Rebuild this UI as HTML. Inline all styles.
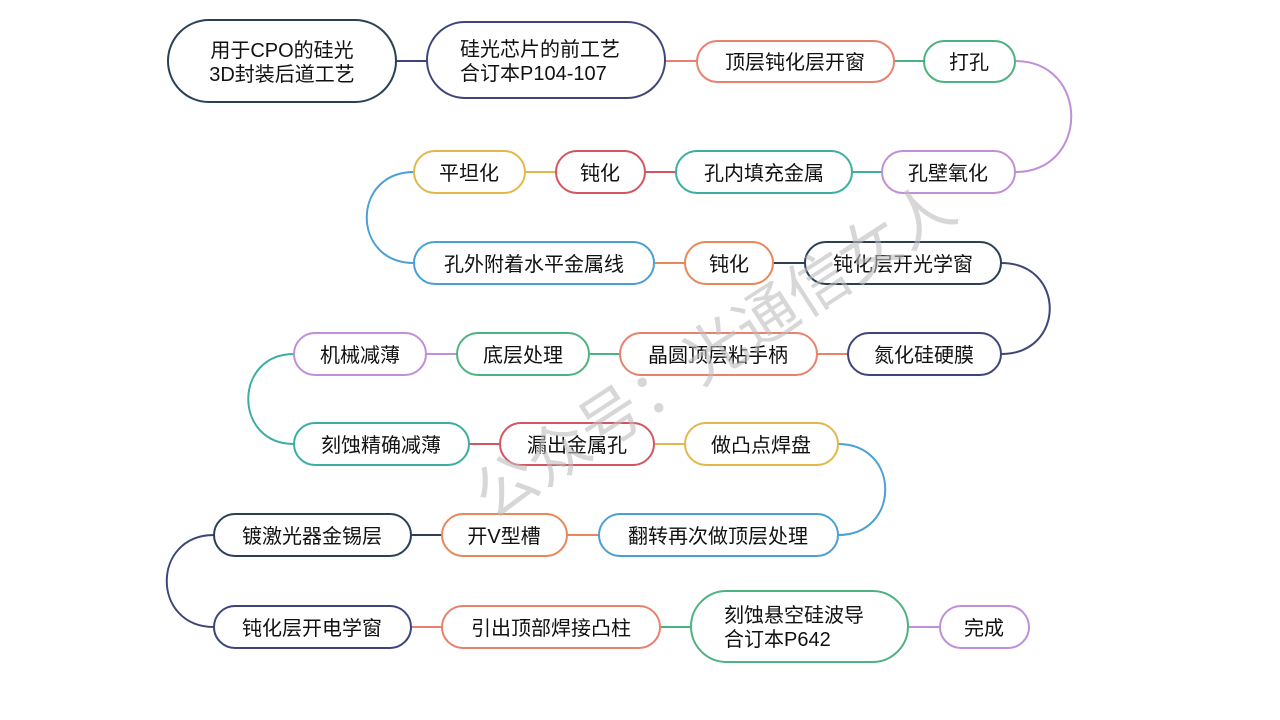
<!DOCTYPE html>
<html><head><meta charset="utf-8"><style>
html,body{margin:0;padding:0;background:#fff;width:1280px;height:720px;overflow:hidden}
svg text{font-family:"Liberation Sans","Noto Sans CJK SC",sans-serif;font-size:20px;fill:#111;text-anchor:middle;dominant-baseline:central}
</style></head><body>
<svg width="1280" height="720" xmlns="http://www.w3.org/2000/svg">
<g fill="none" stroke-width="2">
<line x1="396" y1="61" x2="427" y2="61" stroke="#3d4678"/>
<line x1="665" y1="61" x2="697" y2="61" stroke="#e8826f"/>
<line x1="894" y1="61" x2="924" y2="61" stroke="#4db37e"/>
<path d="M1015 61 C1090 61 1090 172 1015 172" stroke="#c08fd8"/>
<line x1="852" y1="172" x2="882" y2="172" stroke="#3aaea3"/>
<line x1="645" y1="172" x2="676" y2="172" stroke="#d45560"/>
<line x1="525" y1="172" x2="556" y2="172" stroke="#e2b84a"/>
<path d="M414 172 C351 172 351 263 414 263" stroke="#4a9fd4"/>
<line x1="654" y1="263" x2="685" y2="263" stroke="#e8875a"/>
<line x1="773" y1="263" x2="805" y2="263" stroke="#2b3f55"/>
<path d="M1001 263 C1066 263 1066 354 1001 354" stroke="#3d4678"/>
<line x1="817" y1="354" x2="848" y2="354" stroke="#e8826f"/>
<line x1="589" y1="354" x2="620" y2="354" stroke="#4db37e"/>
<line x1="426" y1="354" x2="457" y2="354" stroke="#c08fd8"/>
<path d="M294 354 C233 354 233 444 294 444" stroke="#3aaea3"/>
<line x1="469" y1="444" x2="500" y2="444" stroke="#d45560"/>
<line x1="654" y1="444" x2="685" y2="444" stroke="#e2b84a"/>
<path d="M838 444 C901 444 901 535 838 535" stroke="#4a9fd4"/>
<line x1="567" y1="535" x2="599" y2="535" stroke="#e8875a"/>
<line x1="411" y1="535" x2="442" y2="535" stroke="#2b3f55"/>
<path d="M214 535 C151 535 151 627 214 627" stroke="#3d4678"/>
<line x1="411" y1="627" x2="442" y2="627" stroke="#e8826f"/>
<line x1="660" y1="627" x2="691" y2="627" stroke="#4db37e"/>
<line x1="908" y1="627" x2="940" y2="627" stroke="#c08fd8"/>
</g>
<g fill="#fff" stroke-width="2">
<rect x="168" y="20" width="228" height="82" rx="41" stroke="#2b3f55"/>
<rect x="427" y="22" width="238" height="76" rx="38" stroke="#3d4678"/>
<rect x="697" y="41" width="197" height="41" rx="20.5" stroke="#e8826f"/>
<rect x="924" y="41" width="91" height="41" rx="20.5" stroke="#4db37e"/>
<rect x="882" y="151" width="133" height="42" rx="21" stroke="#c08fd8"/>
<rect x="676" y="151" width="176" height="42" rx="21" stroke="#3aaea3"/>
<rect x="556" y="151" width="89" height="42" rx="21" stroke="#d45560"/>
<rect x="414" y="151" width="111" height="42" rx="21" stroke="#e2b84a"/>
<rect x="414" y="242" width="240" height="42" rx="21" stroke="#4a9fd4"/>
<rect x="685" y="242" width="88" height="42" rx="21" stroke="#e8875a"/>
<rect x="805" y="242" width="196" height="42" rx="21" stroke="#2b3f55"/>
<rect x="848" y="333" width="153" height="42" rx="21" stroke="#3d4678"/>
<rect x="620" y="333" width="197" height="42" rx="21" stroke="#e8826f"/>
<rect x="457" y="333" width="132" height="42" rx="21" stroke="#4db37e"/>
<rect x="294" y="333" width="132" height="42" rx="21" stroke="#c08fd8"/>
<rect x="294" y="423" width="175" height="42" rx="21" stroke="#3aaea3"/>
<rect x="500" y="423" width="154" height="42" rx="21" stroke="#d45560"/>
<rect x="685" y="423" width="153" height="42" rx="21" stroke="#e2b84a"/>
<rect x="599" y="514" width="239" height="42" rx="21" stroke="#4a9fd4"/>
<rect x="442" y="514" width="125" height="42" rx="21" stroke="#e8875a"/>
<rect x="214" y="514" width="197" height="42" rx="21" stroke="#2b3f55"/>
<rect x="214" y="606" width="197" height="42" rx="21" stroke="#3d4678"/>
<rect x="442" y="606" width="218" height="42" rx="21" stroke="#e8826f"/>
<rect x="691" y="591" width="217" height="71" rx="35.5" stroke="#4db37e"/>
<rect x="940" y="606" width="89" height="42" rx="21" stroke="#c08fd8"/>
</g>
<g transform="translate(0,2)">
<text x="282" y="49">用于CPO的硅光</text>
<text x="282" y="73">3D封装后道工艺</text>
<text x="460" y="48" style="text-anchor:start">硅光芯片的前工艺</text>
<text x="460" y="72" style="text-anchor:start">合订本P104-107</text>
<text x="795" y="61">顶层钝化层开窗</text>
<text x="969" y="61">打孔</text>
<text x="948" y="172">孔壁氧化</text>
<text x="764" y="172">孔内填充金属</text>
<text x="600" y="172">钝化</text>
<text x="469" y="172">平坦化</text>
<text x="534" y="263">孔外附着水平金属线</text>
<text x="729" y="263">钝化</text>
<text x="903" y="263">钝化层开光学窗</text>
<text x="924" y="354">氮化硅硬膜</text>
<text x="718" y="354">晶圆顶层粘手柄</text>
<text x="523" y="354">底层处理</text>
<text x="360" y="354">机械减薄</text>
<text x="381" y="444">刻蚀精确减薄</text>
<text x="577" y="444">漏出金属孔</text>
<text x="761" y="444">做凸点焊盘</text>
<text x="718" y="535">翻转再次做顶层处理</text>
<text x="504" y="535">开V型槽</text>
<text x="312" y="535">镀激光器金锡层</text>
<text x="312" y="627">钝化层开电学窗</text>
<text x="551" y="627">引出顶部焊接凸柱</text>
<text x="724" y="614" style="text-anchor:start">刻蚀悬空硅波导</text>
<text x="724" y="638" style="text-anchor:start">合订本P642</text>
<text x="984" y="627">完成</text>
</g>
<text transform="translate(715,352) rotate(-33)" style="font-size:62px;fill:#bdbdbd;fill-opacity:0.6">公众号：光通信女人</text>
</svg>
</body></html>
